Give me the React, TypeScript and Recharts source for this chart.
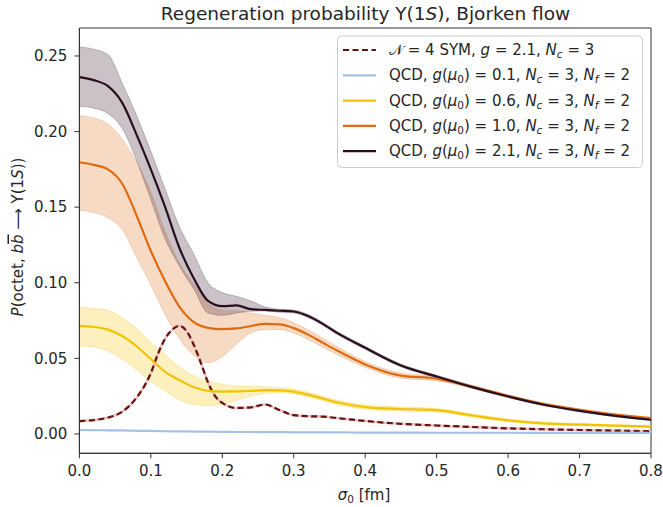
import { ComposedChart, Line, Area, XAxis, YAxis, ReferenceArea } from 'recharts';

// sigma_0 grid [fm] shared by the QCD curves
const sigma = [0, 0.02, 0.04, 0.06, 0.08, 0.10, 0.12, 0.14, 0.16, 0.18, 0.20, 0.22, 0.24, 0.26, 0.28, 0.30, 0.32, 0.34, 0.36, 0.40, 0.45, 0.50, 0.55, 0.60, 0.65, 0.70, 0.75, 0.80];

// QCD g(mu0) = 2.1
const blackMid = [0.236, 0.234, 0.230, 0.219, 0.198, 0.175, 0.150, 0.123, 0.103, 0.088, 0.0845, 0.085, 0.0825, 0.082, 0.0815, 0.081, 0.078, 0.073, 0.067, 0.057, 0.0453, 0.038, 0.031, 0.0248, 0.0193, 0.0153, 0.012, 0.0094];
const blackHi = [0.256, 0.2545, 0.251, 0.232, 0.2106, 0.187, 0.162, 0.137, 0.119, 0.100, 0.0935, 0.091, 0.088, 0.084, 0.0825, 0.082, 0.079, 0.074, 0.068, 0.058, 0.0462, 0.0388, 0.0318, 0.0255, 0.0199, 0.0158, 0.0125, 0.0099];
const blackLo = [0.2167, 0.2155, 0.212, 0.202, 0.181, 0.155, 0.129, 0.111, 0.096, 0.080, 0.0785, 0.080, 0.0812, 0.0813, 0.0805, 0.080, 0.077, 0.072, 0.066, 0.056, 0.0444, 0.0372, 0.0302, 0.0241, 0.0187, 0.0148, 0.0115, 0.0089];

// QCD g(mu0) = 1.0
const orangeMid = [0.1797, 0.178, 0.175, 0.1655, 0.1445, 0.121, 0.101, 0.084, 0.074, 0.0702, 0.0693, 0.0698, 0.0714, 0.0728, 0.0725, 0.070, 0.0657, 0.0605, 0.0553, 0.046, 0.0386, 0.0366, 0.0312, 0.0252, 0.0198, 0.016, 0.0128, 0.0104];
const orangeHi = [0.2107, 0.209, 0.205, 0.195, 0.180, 0.160, 0.134, 0.113, 0.099, 0.086, 0.082, 0.0815, 0.080, 0.0785, 0.077, 0.0735, 0.069, 0.0635, 0.058, 0.048, 0.0403, 0.0381, 0.0322, 0.026, 0.0206, 0.0167, 0.0134, 0.011];
const orangeLo = [0.148, 0.1465, 0.143, 0.135, 0.117, 0.0985, 0.079, 0.063, 0.052, 0.047, 0.051, 0.0595, 0.0668, 0.069, 0.069, 0.0668, 0.0624, 0.0575, 0.0526, 0.044, 0.0369, 0.0351, 0.0302, 0.0244, 0.019, 0.0153, 0.0122, 0.0098];

// QCD g(mu0) = 0.6
const yellowMid = [0.0715, 0.0708, 0.069, 0.0648, 0.058, 0.0495, 0.041, 0.0356, 0.031, 0.0285, 0.028, 0.0281, 0.0285, 0.029, 0.0288, 0.028, 0.026, 0.0235, 0.021, 0.0178, 0.0165, 0.0157, 0.0122, 0.009, 0.007, 0.0062, 0.0055, 0.0048];
const yellowHi = [0.0842, 0.083, 0.0818, 0.0768, 0.0697, 0.0605, 0.0525, 0.0442, 0.0385, 0.035, 0.0328, 0.0318, 0.0315, 0.0312, 0.0305, 0.0297, 0.0275, 0.025, 0.0225, 0.0192, 0.0178, 0.0169, 0.0133, 0.0099, 0.0078, 0.0069, 0.0061, 0.0054];
const yellowLo = [0.0582, 0.0575, 0.0548, 0.0495, 0.0425, 0.0347, 0.0285, 0.0225, 0.0195, 0.0186, 0.0197, 0.0222, 0.025, 0.0268, 0.0272, 0.0265, 0.0245, 0.022, 0.0195, 0.0164, 0.0152, 0.0145, 0.0111, 0.0081, 0.0062, 0.0055, 0.0049, 0.0042];

// QCD g(mu0) = 0.1
const blueMid = [0.0026, 0.0025, 0.0024, 0.0023, 0.0021, 0.002, 0.0018, 0.0017, 0.0016, 0.0015, 0.0014, 0.0013, 0.0013, 0.0012, 0.0012, 0.0011, 0.0011, 0.001, 0.001, 0.0009, 0.0009, 0.0008, 0.0008, 0.0008, 0.0007, 0.0007, 0.0007, 0.0007];

// N=4 SYM, finer grid around the peak
const symSigma = [0, 0.02, 0.04, 0.06, 0.08, 0.09, 0.10, 0.11, 0.12, 0.13, 0.14, 0.15, 0.16, 0.17, 0.18, 0.19, 0.20, 0.22, 0.24, 0.26, 0.28, 0.30, 0.32, 0.34, 0.36, 0.40, 0.45, 0.50, 0.55, 0.60, 0.65, 0.70, 0.75, 0.80];
const symP = [0.0085, 0.0092, 0.0108, 0.0147, 0.0240, 0.031, 0.0402, 0.053, 0.063, 0.069, 0.0715, 0.068, 0.059, 0.047, 0.034, 0.025, 0.0205, 0.0172, 0.0176, 0.0195, 0.0158, 0.0124, 0.0117, 0.0115, 0.0105, 0.0086, 0.0067, 0.0056, 0.0046, 0.0037, 0.0031, 0.0026, 0.0022, 0.0018];

const xTicks = [0, 0.1, 0.2, 0.3, 0.4, 0.5, 0.6, 0.7, 0.8];
const yTicks = [0, 0.05, 0.1, 0.15, 0.2, 0.25];

const rows = sigma.map((s, i) => ({
    s,
    k: blackMid[i],
    kBand: [blackLo[i], blackHi[i]],
    o: orangeMid[i],
    oBand: [orangeLo[i], orangeHi[i]],
    y: yellowMid[i],
    yBand: [yellowLo[i], yellowHi[i]],
    b: blueMid[i],
}));
const symRows = symSigma.map((s, i) => ({ s, p: symP[i] }));

const C_BLACK = '#2a0f1f';
const C_ORANGE = '#df6a10';
const C_YELLOW = '#f2c300';
const C_BLUE = '#a4c2e8';
const C_SYM = '#6a1010';
const TXT = '#262626';
const FONT = '"DejaVu Sans", sans-serif';

const tickStyle = { fontSize: 15, fill: TXT, fontFamily: FONT };

// italic subscript, shifted down without touching the following text
function Sub({ children }: { children: any }) {
    return <tspan baselineShift={-4} fontSize={10.5} fontStyle="italic">{children}</tspan>;
}

export default function App() {
    const legendRows = [
        { color: C_SYM, dash: true, label: <><tspan>{'\u{1D4A9}'}</tspan><tspan> = 4 SYM, </tspan><tspan fontStyle="italic">g</tspan><tspan> = 2.1, </tspan><tspan fontStyle="italic">N</tspan><Sub>c</Sub><tspan> = 3</tspan></> },
        { color: C_BLUE, label: '0.1' },
        { color: C_YELLOW, label: '0.6' },
        { color: C_ORANGE, label: '1.0' },
        { color: C_BLACK, label: '2.1' },
    ];
    const rowY = [50, 75.3, 100.6, 125.9, 151.2];

    return (
        <div style={{ position: 'absolute', left: 0, top: 0, width: 663, height: 507, background: '#fff' }}>
            <ComposedChart width={663} height={507} margin={{ top: 28, right: 12, bottom: 0, left: 0 }}>
                <XAxis dataKey="s" type="number" domain={[0, 0.8]} ticks={xTicks} allowDataOverflow
                    tickFormatter={(v: number) => v.toFixed(1)} tick={tickStyle} height={53.7}
                    tickSize={5} tickMargin={7} stroke="#333" />
                <YAxis type="number" domain={[-0.0128, 0.2685]} ticks={yTicks} allowDataOverflow
                    tickFormatter={(v: number) => v.toFixed(2)} tick={tickStyle} width={79.4}
                    tickSize={5} tickMargin={7} stroke="#333" />
                <ReferenceArea x1={0} x2={0.8} y1={-0.0128} y2={0.2685} fill="none" stroke="#333" strokeWidth={1} />

                <Line data={symRows} dataKey="p" type="monotone" stroke="#e6c2c2" strokeWidth={2.6} dot={false} activeDot={false} isAnimationActive={false} />
                <Line data={symRows} dataKey="p" type="monotone" stroke={C_SYM} strokeWidth={2.2} strokeDasharray="6 3.5" dot={false} activeDot={false} isAnimationActive={false} />

                <Line data={rows} dataKey="b" type="monotone" stroke={C_BLUE} strokeWidth={2.2} dot={false} activeDot={false} isAnimationActive={false} />

                <Area data={rows} dataKey="yBand" type="monotone" fill={C_YELLOW} fillOpacity={0.25} stroke={C_YELLOW} strokeOpacity={0.25} strokeWidth={1} dot={false} activeDot={false} isAnimationActive={false} />
                <Line data={rows} dataKey="y" type="monotone" stroke={C_YELLOW} strokeWidth={2.2} dot={false} activeDot={false} isAnimationActive={false} />

                <Area data={rows} dataKey="oBand" type="monotone" fill={C_ORANGE} fillOpacity={0.25} stroke={C_ORANGE} strokeOpacity={0.2} strokeWidth={1} dot={false} activeDot={false} isAnimationActive={false} />
                <Line data={rows} dataKey="o" type="monotone" stroke={C_ORANGE} strokeWidth={2.2} dot={false} activeDot={false} isAnimationActive={false} />

                <Area data={rows} dataKey="kBand" type="monotone" fill="#3d1d33" fillOpacity={0.27} stroke="#3d1d33" strokeOpacity={0.25} strokeWidth={1} dot={false} activeDot={false} isAnimationActive={false} />
                <Line data={rows} dataKey="k" type="monotone" stroke={C_BLACK} strokeWidth={2.2} dot={false} activeDot={false} isAnimationActive={false} />
            </ComposedChart>

            <svg width={663} height={507} style={{ position: 'absolute', left: 0, top: 0, pointerEvents: 'none' }}
                fontFamily={FONT} fill={TXT}>
                <text x={365.5} y={13} fontSize={18.5} textAnchor="middle" dominantBaseline="central">
                    Regeneration probability Υ(1<tspan fontStyle="italic">S</tspan>), Bjorken flow
                </text>

                <text transform="translate(17.5,237) rotate(-90)" fontSize={15} textAnchor="middle" dominantBaseline="central">
                    <tspan fontStyle="italic">P</tspan>(octet, <tspan fontStyle="italic">b</tspan><tspan fontStyle="italic" textDecoration="overline">b</tspan> ⟶ Υ(1<tspan fontStyle="italic">S</tspan>))
                </text>

                <text x={364} y={495} fontSize={15} textAnchor="middle" dominantBaseline="central">
                    <tspan fontStyle="italic">σ</tspan><tspan baselineShift={-4} fontSize={10.5}>0</tspan><tspan> [fm]</tspan>
                </text>

                <rect x={337.5} y={36} width={305} height={131.5} rx={4} fill="#fff" fillOpacity={0.8} stroke="#cccccc" />
                {legendRows.map((r, i) => (
                    <g key={i}>
                        <line x1={343} x2={376} y1={rowY[i]} y2={rowY[i]} stroke={r.color} strokeWidth={2.2}
                            strokeDasharray={r.dash ? '6 3.5' : undefined} />
                        <text x={389} y={rowY[i]} fontSize={15} dominantBaseline="central">
                            {typeof r.label === 'string' ? (
                                <>
                                    <tspan>QCD, </tspan><tspan fontStyle="italic">g</tspan><tspan>(</tspan><tspan fontStyle="italic">μ</tspan>
                                    <tspan baselineShift={-4} fontSize={10.5}>0</tspan><tspan>) = {r.label}, </tspan>
                                    <tspan fontStyle="italic">N</tspan><Sub>c</Sub><tspan> = 3, </tspan>
                                    <tspan fontStyle="italic">N</tspan><Sub>f</Sub><tspan> = 2</tspan>
                                </>
                            ) : r.label}
                        </text>
                    </g>
                ))}
            </svg>
        </div>
    );
}
